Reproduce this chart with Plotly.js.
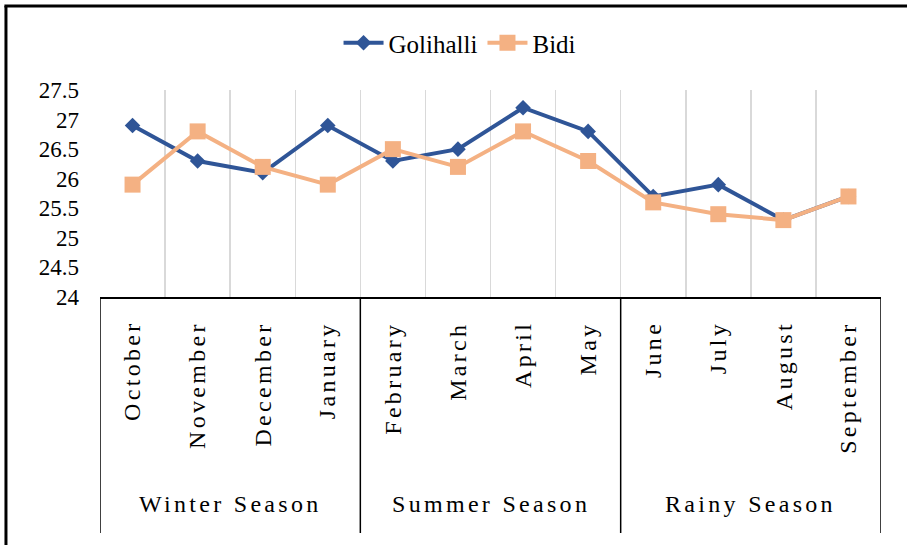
<!DOCTYPE html>
<html>
<head>
<meta charset="utf-8">
<script src="https://cdn.plot.ly/plotly-3.0.1.min.js"></script>
<style>
  html, body { margin: 0; padding: 0; background: #fff; }
  #chart { width: 907px; height: 545px; }
  #chart text { font-family: "Liberation Serif", "DejaVu Serif", serif !important; }
  .annotation-text { letter-spacing: 3.3px; }
</style>
</head>
<body>
<div id="chart"></div>
<script>
// ---- data ----
const months = ['October','November','December','January','February','March','April','May','June','July','August','September'];
const monthSeason = ['Winter Season','Winter Season','Winter Season','Winter Season','Summer Season','Summer Season','Summer Season','Summer Season','Rainy Season','Rainy Season','Rainy Season','Rainy Season'];
const seasons = ['Winter Season','Summer Season','Rainy Season'];
const golihalli = [26.9, 26.3, 26.1, 26.9, 26.3, 26.5, 27.2, 26.8, 25.7, 25.9, 25.3, 25.7];
const bidi = [25.9, 26.8, 26.2, 25.9, 26.5, 26.2, 26.8, 26.3, 25.6, 25.4, 25.3, 25.7];
const yTickVals = [24, 24.5, 25, 25.5, 26, 26.5, 27, 27.5];
const yTickText = ['24', '24.5', '25', '25.5', '26', '26.5', '27', '27.5'];

const FONT = 'Liberation Serif';

const traces = [
  {
    name: 'Golihalli', x: months, y: golihalli, type: 'scatter', mode: 'lines+markers',
    line: { color: '#2F5597', width: 4 },
    marker: { symbol: 'diamond', size: 12, color: '#2F5597' }
  },
  {
    name: 'Bidi', x: months, y: bidi, type: 'scatter', mode: 'lines+markers',
    line: { color: '#F4B183', width: 4 },
    marker: { symbol: 'square', size: 16, color: '#F4B183' }
  }
];

const annotations = [];
months.forEach((m) => {
  annotations.push({
    x: m, xref: 'x', y: -0.108, yref: 'paper',
    text: m, showarrow: false, textangle: -90,
    xanchor: 'center', yanchor: 'top',
    font: { family: FONT, size: 24, color: '#000' }
  });
});
const shapes = [];
const bounds = [];
seasons.forEach((s) => {
  const idx = monthSeason.map((ms, i) => ms === s ? i : -1).filter(i => i >= 0);
  const first = idx[0], last = idx[idx.length - 1];
  annotations.push({
    x: (first + last) / 2, xref: 'x', y: -1.0, yref: 'paper',
    text: s, showarrow: false, xanchor: 'center', yanchor: 'middle',
    font: { family: FONT, size: 24, color: '#000' }
  });
  if (bounds.indexOf(first - 0.5) < 0) bounds.push(first - 0.5);
  bounds.push(last + 0.5);
});
bounds.forEach((b) => {
  shapes.push({
    type: 'line', xref: 'x', yref: 'paper', x0: b, x1: b, y0: 0, y1: -1.14,
    line: { color: '#000', width: 1.5 }
  });
});
// outer frame (left and top edges)
shapes.push({ type: 'line', xref: 'paper', yref: 'paper', x0: -0.1204, x1: -0.1204, y0: 1.406, y1: -1.3, line: { color: '#000', width: 3 } });
shapes.push({ type: 'line', xref: 'paper', yref: 'paper', x0: -0.1224, x1: 1.04, y0: 1.406, y1: 1.406, line: { color: '#000', width: 3 } });

const layout = {
  width: 907, height: 545,
  margin: { l: 100, r: 26, t: 90, b: 248 },
  paper_bgcolor: '#fff', plot_bgcolor: '#fff',
  font: { family: FONT, color: '#000' },
  showlegend: true,
  legend: {
    orientation: 'h', x: 0.461, xanchor: 'center', y: 1.227, yanchor: 'middle',
    font: { family: FONT, size: 25, color: '#000' },
    bgcolor: 'rgba(0,0,0,0)', itemwidth: 40
  },
  xaxis: {
    type: 'category', range: [-0.5, 11.5], tickson: 'boundaries',
    showgrid: true, gridcolor: '#d9d9d9', gridwidth: 1.5,
    showticklabels: false, ticks: '', zeroline: false,
    showline: true, linecolor: '#000', linewidth: 1.5, fixedrange: true
  },
  yaxis: {
    range: [24, 27.5], tickvals: yTickVals, ticktext: yTickText,
    showgrid: false, zeroline: false, showline: false, ticks: '',
    ticklabelstandoff: 20,
    tickfont: { family: FONT, size: 23, color: '#000' }, fixedrange: true
  },
  annotations: annotations,
  shapes: shapes
};

Plotly.newPlot('chart', traces, layout, { displayModeBar: false, staticPlot: true });
</script>
</body>
</html>
